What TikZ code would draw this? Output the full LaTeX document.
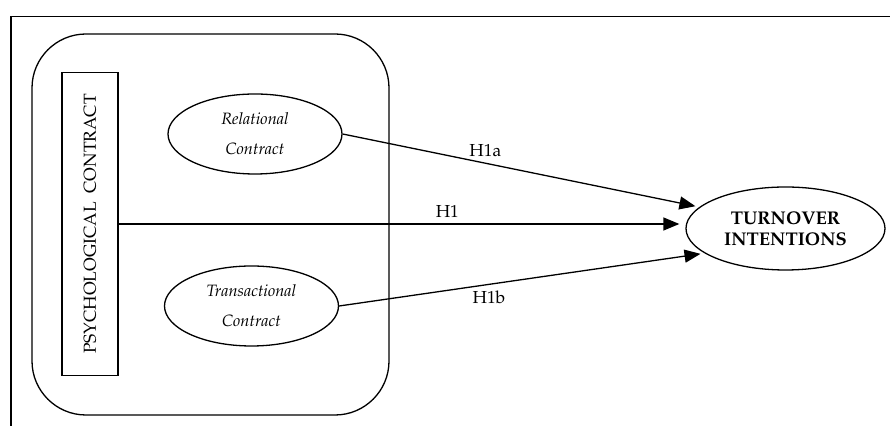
\documentclass[tikz,border=0pt]{standalone}
\usepackage[T1]{fontenc}
\usepackage{mathpazo}
\usepackage{graphicx}
\usetikzlibrary{arrows.meta,positioning,shapes.geometric,backgrounds}

\begin{document}
\begin{tikzpicture}[
    x=0.5pt, y=-0.5pt,
    >={Triangle[length=8pt,width=6.5pt]},
    line width=0.65pt,
    construct/.style={draw, ellipse, inner sep=0pt, minimum width=87pt, minimum height=40pt, align=center, font=\fontsize{8.2}{15}\selectfont\itshape},
    outcome/.style={draw, ellipse, inner sep=1pt, minimum width=99.5pt, minimum height=41.5pt, align=center, font=\fontsize{9.2}{10.5}\selectfont\bfseries},
    bar/.style={draw, minimum width=28pt, minimum height=151.5pt, font=\fontsize{8.7}{10}\selectfont},
    group/.style={draw, rounded corners=27pt, minimum width=178.5pt, minimum height=190.5pt},
    hyp/.style={font=\fontsize{8.7}{10}\selectfont, inner sep=3pt}
]
\useasboundingbox (0,0) rectangle (890,426);

% frame
\draw[line width=0.9pt] (11,426) -- (11,16.5) -- (890,16.5);

\node[group] (pc) at (210.5,224.5) {};
\node[bar] (psych) at (90,224) {\rotatebox{90}{PSYCHOLOGICAL\ \ CONTRACT}};
\node[construct] (rel) at (255,134) {Relational\\Contract};
\node[construct] (trans) at (251.5,306) {Transactional\\Contract};
\node[outcome] (turn) at (785.5,228.5) {TURNOVER\\INTENTIONS};

\draw[->, shorten >=2pt] (rel.east) -- node[hyp, above, pos=0.4] {H1a} (turn.166);
\draw[->, shorten >=3pt] (psych.east) -- node[hyp, above, pos=0.58] {H1} (psych.east -| turn.west);
\draw[->, shorten >=2pt] (trans.east) -- node[hyp, below, pos=0.41] {H1b} (turn.197);
\end{tikzpicture}
\end{document}
